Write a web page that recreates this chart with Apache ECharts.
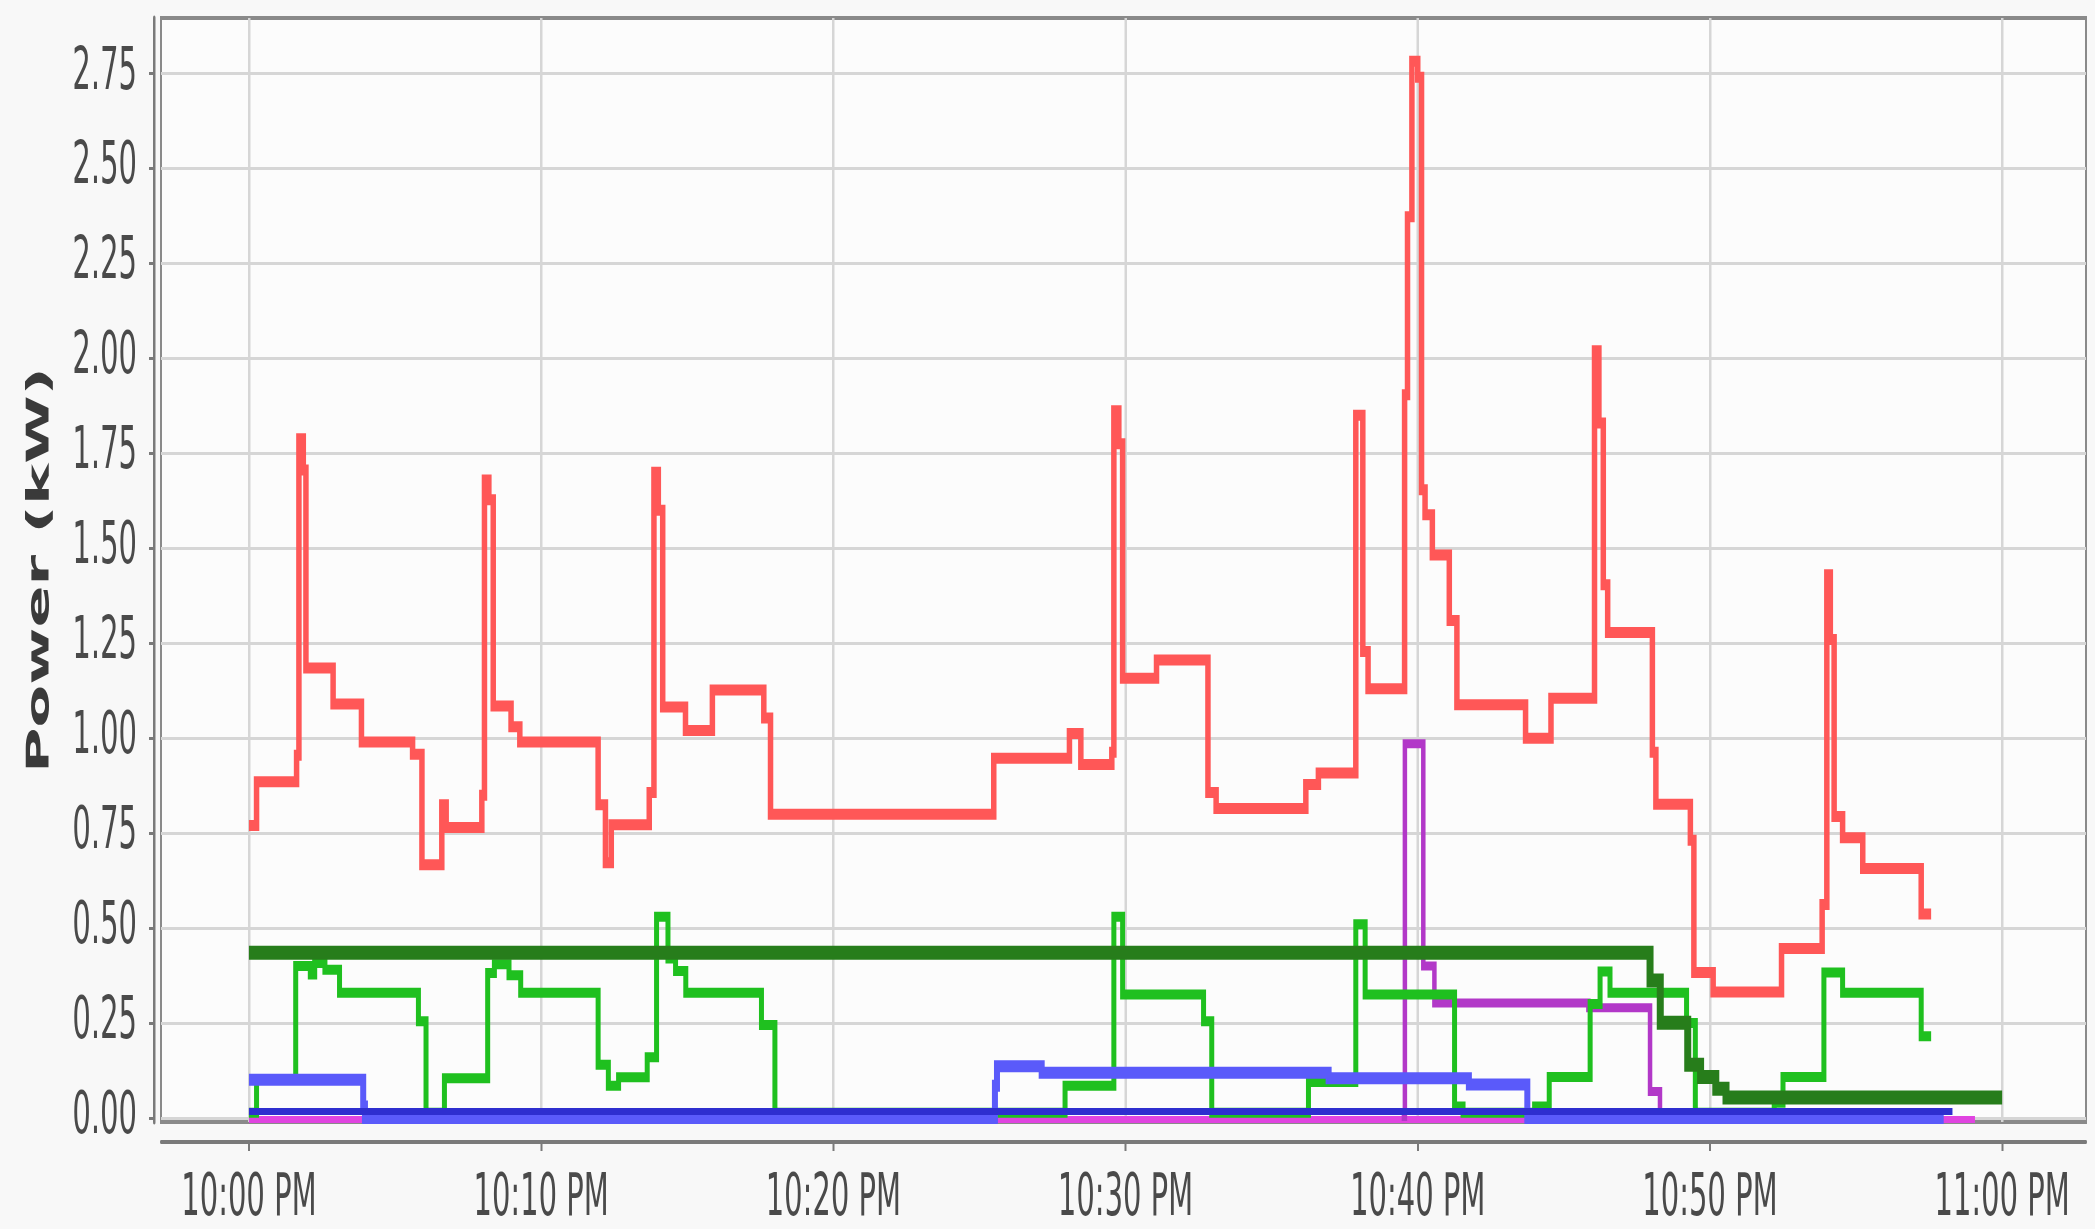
<!DOCTYPE html>
<html>
<head>
<meta charset="utf-8">
<title>Power (kW)</title>
<script src="https://cdn.jsdelivr.net/npm/echarts@6.0.0/dist/echarts.min.js"></script>
<style>
  html, body { margin: 0; padding: 0; background: #f8f8f8; overflow: hidden; }
  /* the reference picture is squeezed horizontally, so draw wide and squeeze by half */
  #chart { width: 4190px; height: 1229px; transform: scaleX(0.5); transform-origin: 0 0; }
</style>
</head>
<body>
<div id="chart"></div>
<script>
// minutes after 10:00 PM
var xTicks = [0, 10, 20, 30, 40, 50, 60];
var xTickLabels = ['10:00 PM', '10:10 PM', '10:20 PM', '10:30 PM', '10:40 PM', '10:50 PM', '11:00 PM'];
var yTicks = [0, 0.25, 0.5, 0.75, 1, 1.25, 1.5, 1.75, 2, 2.25, 2.5, 2.75];

// [minute, kW] - each value holds until the next point
var red = [
  [0, 0.77], [0.26, 0.885], [1.63, 0.955], [1.71, 1.788], [1.86, 1.706], [1.95, 1.185],
  [2.88, 1.09], [3.85, 0.99], [5.6, 0.958], [5.92, 0.667], [6.6, 0.825], [6.75, 0.765],
  [7.97, 0.85], [8.06, 1.68], [8.21, 1.628], [8.36, 1.085], [8.97, 1.03], [9.27, 0.99],
  [11.95, 0.825], [12.2, 0.672], [12.4, 0.772], [13.7, 0.857], [13.86, 1.70], [14.01, 1.60],
  [14.16, 1.082], [14.94, 1.02], [15.86, 1.127], [17.62, 1.053], [17.85, 0.80],
  [25.49, 0.947], [28.08, 1.012], [28.47, 0.931], [29.53, 0.963], [29.6, 1.862], [29.77, 1.775],
  [29.9, 1.158], [31.06, 1.206], [32.82, 0.857], [33.1, 0.815], [36.17, 0.878], [36.6, 0.908],
  [37.88, 1.85], [38.12, 1.228], [38.3, 1.13], [39.55, 1.904], [39.65, 2.373], [39.8, 2.782],
  [40.0, 2.74], [40.13, 1.654], [40.25, 1.588], [40.5, 1.482], [41.08, 1.31], [41.34, 1.088],
  [43.69, 1.0], [44.56, 1.105], [46.05, 2.02], [46.2, 1.83], [46.35, 1.404], [46.5, 1.278],
  [48.03, 0.963], [48.15, 0.826], [49.33, 0.731], [49.45, 0.383], [50.11, 0.332],
  [52.45, 0.446], [53.84, 0.562], [54.0, 1.43], [54.12, 1.26], [54.25, 0.794], [54.54, 0.738],
  [55.23, 0.657], [57.23, 0.537], [57.57, 0.537]
];
var green = [
  [0, 0.014], [0.26, 0.101], [1.6, 0.40], [2.1, 0.378], [2.25, 0.408], [2.6, 0.39], [3.1, 0.33],
  [5.8, 0.255], [6.06, 0.014], [6.69, 0.105], [8.17, 0.382], [8.4, 0.405], [8.9, 0.376], [9.3, 0.33],
  [11.95, 0.14], [12.3, 0.085], [12.65, 0.107], [13.63, 0.16], [13.95, 0.53], [14.34, 0.42],
  [14.6, 0.387], [14.95, 0.33], [17.54, 0.245], [18.0, 0.014], [27.93, 0.085], [29.6, 0.53],
  [29.9, 0.325], [32.67, 0.255], [32.95, 0.014], [36.26, 0.095], [37.88, 0.51], [38.2, 0.325],
  [41.26, 0.03], [41.55, 0.014], [44.0, 0.03], [44.5, 0.108], [45.9, 0.30], [46.24, 0.386],
  [46.58, 0.33], [49.2, 0.25], [49.5, 0.014], [52.2, 0.04], [52.5, 0.108], [53.9, 0.383],
  [54.54, 0.33], [57.23, 0.215], [57.57, 0.215]
];
var darkGreen = [
  [0, 0.435], [47.95, 0.362], [48.3, 0.251], [49.24, 0.14], [49.68, 0.108], [50.2, 0.077],
  [50.55, 0.054], [60.0, 0.054]
];
var blue = [
  [0, 0.101], [3.91, 0.03], [3.97, 0.0], [25.53, 0.085], [25.6, 0.136], [27.13, 0.119],
  [36.95, 0.105], [41.75, 0.088], [43.75, 0.0], [58.0, 0.0]
];
var navy = [[0, 0.017], [58.3, 0.017]];
var pink = [[0, -0.004], [59.07, -0.004]];
var purple = [
  [39.45, 0.004], [39.56, 0.985], [40.19, 0.40], [40.57, 0.303], [45.84, 0.29], [47.95, 0.07],
  [48.29, 0.004], [48.4, 0.004]
];

var font = 'DejaVu Sans';

function stepLine(name, data, color, width) {
  return {
    name: name,
    type: 'line',
    step: 'end',
    data: data,
    symbol: 'none',
    lineStyle: { color: color, width: width, join: 'miter' },
    emphasis: { disabled: true }
  };
}

var chart = echarts.init(document.getElementById('chart'));
var option = {
  animation: false,
  backgroundColor: '#f8f8f8',
  grid: {
    left: 322,
    right: 18,
    top: 18,
    bottom: 106,
    show: true,
    backgroundColor: '#fcfcfc',
    borderColor: '#8a8a8a',
    borderWidth: 4
  },
  xAxis: {
    type: 'value',
    min: -3.01,
    max: 62.87,
    offset: 20,
    axisLine: { onZero: false, lineStyle: { color: '#7a7a7a', width: 4 } },
    axisTick: { show: true, length: 9, lineStyle: { color: '#7a7a7a', width: 4 }, customValues: xTicks },
    axisLabel: {
      customValues: xTicks,
      margin: 29,
      fontFamily: font,
      fontSize: 58,
      color: '#4a4a4a',
      formatter: function (v) {
        var i = xTicks.indexOf(v);
        return i >= 0 ? xTickLabels[i] : '';
      }
    },
    splitLine: { show: true, lineStyle: { color: '#d6d6d6', width: 5 } }
  },
  yAxis: {
    type: 'value',
    min: -0.0105,
    max: 2.896,
    offset: 14,
    name: 'Power (kW)',
    nameLocation: 'middle',
    nameRotate: 90,
    nameGap: 196,
    nameTextStyle: { fontFamily: font, fontSize: 62, fontWeight: 'bold', color: '#3a3a3a' },
    axisLine: { show: true, onZero: false, lineStyle: { color: '#7a7a7a', width: 5 } },
    axisTick: { show: true, length: 10, lineStyle: { color: '#7a7a7a', width: 3 }, customValues: yTicks },
    axisLabel: {
      customValues: yTicks,
      margin: 34,
      fontFamily: font,
      fontSize: 58,
      color: '#4a4a4a',
      formatter: function (v) { return v.toFixed(2); }
    },
    splitLine: { show: true, lineStyle: { color: '#d6d6d6', width: 3 } }
  },
  series: [
    stepLine('pink', pink, '#e044e0', 7),
    stepLine('purple', purple, '#b238c8', 9),
    stepLine('red', red, '#ff5757', 11),
    stepLine('green', green, '#1fc01f', 10),
    stepLine('blue', blue, '#5a5afa', 12),
    stepLine('navy', navy, '#2e2ecf', 7),
    stepLine('darkGreen', darkGreen, '#277d1b', 14)
  ]
};
chart.setOption(option);
</script>
</body>
</html>
